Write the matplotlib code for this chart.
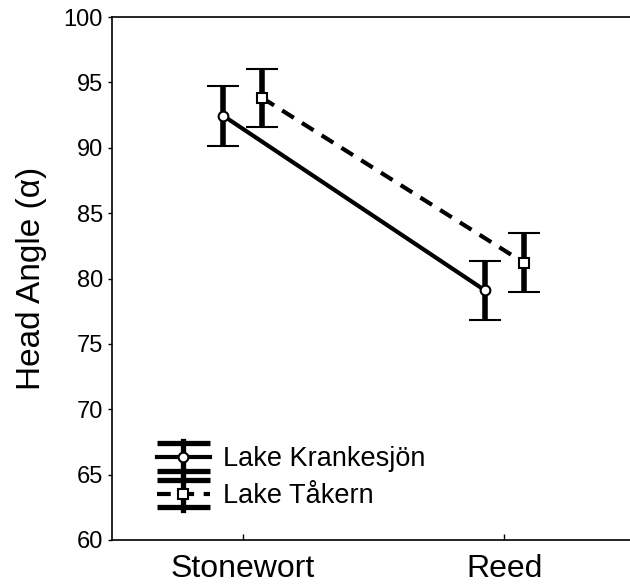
import numpy as np
import matplotlib
matplotlib.use("Agg")
import matplotlib.pyplot as plt
from matplotlib.lines import Line2D
from matplotlib.legend_handler import HandlerBase

plt.rcParams.update({
    "font.family": ["Liberation Sans", "DejaVu Sans"],
})

# ── data ────────────────────────────────────────────────────────
categories = ["Stonewort", "Reed"]
krank_mean = [92.45, 79.1]
krank_err = [2.3, 2.25]
takern_mean = [93.8, 81.2]
takern_err = [2.25, 2.25]
offset = 0.075


class HandlerErrorbar(HandlerBase):
    """MATLAB-style errorbar legend entry: two caps, a vertical bar, a line with marker."""
    def create_artists(self, legend, orig, xdescent, ydescent, width, height, fontsize, trans):
        cy = height / 2 - ydescent
        x0, x1 = -xdescent, width - xdescent
        xm = (x0 + x1) / 2
        dy = 0.5 * fontsize
        dashed = orig.get_linestyle() == "--"
        arts = []
        for y in (cy - dy, cy + dy):
            arts.append(Line2D([x0, x1], [y, y], color="black", lw=3.8, solid_capstyle="butt"))
        arts.append(Line2D([xm, xm], [cy - dy - 2, cy + dy + 2], color="black", lw=3.8))
        arts.append(Line2D([x0, x1], [cy, cy], color="black", lw=3,
                           linestyle=(0, (3.3, 2.3)) if dashed else "-"))
        arts.append(Line2D([xm], [cy], marker=orig.get_marker(), ms=7, mfc="white",
                           mec="black", mew=1.5, linestyle="none"))
        for a in arts:
            a.set_transform(trans)
        return arts


fig = plt.figure(figsize=(6.3, 5.88), dpi=100)
ax = fig.add_axes([112 / 630, 48 / 588, 518 / 630, 523 / 588])

x = np.arange(1, len(categories) + 1)

ax.errorbar(x - offset, krank_mean, yerr=krank_err, color="black", lw=3,
            elinewidth=4, capsize=11.5, capthick=4, marker="o", ms=7,
            mfc="white", mec="black", mew=1.5, zorder=3)
ax.errorbar(x + offset, takern_mean, yerr=takern_err, color="black", lw=3,
            linestyle=(0, (3.3, 2.3)), elinewidth=4, capsize=11.5, capthick=4,
            marker="s", ms=7, mfc="white", mec="black", mew=1.5, zorder=3)

h1 = Line2D([], [], linestyle="-", marker="o")
h2 = Line2D([], [], linestyle="--", marker="s")
ax.legend([h1, h2], ["Lake Krankesjön", "Lake Tåkern"],
          handler_map={Line2D: HandlerErrorbar()},
          loc="lower left", bbox_to_anchor=(0.066, 0.038), frameon=False,
          fontsize=19.5, handlelength=1.95, handletextpad=0.5, labelspacing=0.4,
          borderaxespad=0)

ax.set_xlim(0.5, 2.48)
ax.set_ylim(60, 100)
ax.set_xticks(x)
ax.set_xticklabels(categories, fontsize=23)
ax.set_yticks(np.arange(60, 101, 5))
ax.tick_params(axis="y", labelsize=17, direction="out", length=3, width=1)
ax.tick_params(axis="x", direction="in", length=4, width=1, pad=10)
ax.set_ylabel("Head Angle (α)", fontsize=24, labelpad=12)

ax.spines["right"].set_visible(False)
for s in ("left", "bottom", "top"):
    ax.spines[s].set_linewidth(1.2)

fig.savefig("out.png", dpi=100)
